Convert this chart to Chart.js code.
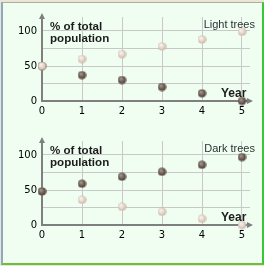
<!DOCTYPE html>
<html>
<head>
<meta charset="utf-8">
<script src="https://cdn.jsdelivr.net/npm/chart.js@4/dist/chart.umd.min.js"></script>
<style>
body { margin: 0; background: #e9e6d6; }
#frame { position: absolute; left: 0; top: 0; width: 264px; height: 266px; overflow: hidden; }
#panel { position: absolute; left: 1px; top: 2px; width: 259px; height: 260px; background: #effef0;
  border-left: 2px solid #8ea8bd; border-top: 1px solid #b4ae98; border-right: 2px solid #35c935; border-bottom: 2px solid #6cbf3a; }
canvas { position: absolute; left: 0; }
.lbl { position: absolute; font-family: "Liberation Sans", Arial, sans-serif; font-size: 11px; line-height: 12px; color: #1c1c1c; white-space: nowrap; }
.b { font-weight: bold; font-size: 11.6px; }
.yr { font-size: 12px; }
</style>
</head>
<body>
<div id="frame">
  <div id="panel"></div>
  <canvas id="light-chart" width="264" height="124" style="top:0"></canvas>
  <canvas id="dark-chart" width="264" height="124" style="top:124px"></canvas>

  <div class="lbl b" style="left:50px;top:20px">% of total</div>
  <div class="lbl b" style="left:50px;top:32px">population</div>
  <div class="lbl" style="right:9px;top:18px;color:#2a3434">Light trees</div>
  <div class="lbl b yr" style="left:221px;top:87px">Year</div>

  <div class="lbl b" style="left:50px;top:144px">% of total</div>
  <div class="lbl b" style="left:50px;top:156px">population</div>
  <div class="lbl" style="right:9px;top:142px;color:#2a3434">Dark trees</div>
  <div class="lbl b yr" style="left:221px;top:211px">Year</div>
</div>

<script>
// years on the x axis
const years = [0, 1, 2, 3, 4, 5];
const yLabels = [0, 50, 100];
const yGrid = [0, 25, 50, 75, 100];

// top panel: light trees
const topLight = [50, 60, 67, 78, 88, 99];
const topDark = [50, 37, 30, 20, 11, 0];

// bottom panel: dark trees
const bottomDark = [48, 59, 69, 76, 86, 97];
const bottomLight = [48, 36, 26, 19, 9, 0];

function ball(hi, mid, lo) {
    const cv = document.createElement('canvas');
    cv.width = 9;
    cv.height = 9;
    const c = cv.getContext('2d');
    const g = c.createRadialGradient(3.3, 3, 0.4, 4.5, 4.5, 4.6);
    g.addColorStop(0, hi);
    g.addColorStop(0.55, mid);
    g.addColorStop(1, lo);
    c.fillStyle = g;
    c.beginPath();
    c.arc(4.5, 4.5, 4.1, 0, Math.PI * 2);
    c.fill();
    return cv;
}

const lightBall = ball('#faf4ef', '#e3d4ca', '#bfa898');
const darkBall = ball('#a89a90', '#6c5d54', '#463a33');

const arrows = {
    id: 'arrows',
    afterDraw(chart) {
        const { ctx, chartArea } = chart;
        const l = chartArea.left, t = chartArea.top, r = chartArea.right, b = chartArea.bottom;
        ctx.save();
        ctx.fillStyle = '#7f7f7f';
        ctx.beginPath();
        ctx.moveTo(l - 3, t + 2);
        ctx.lineTo(l + 3, t + 2);
        ctx.lineTo(l, t - 4);
        ctx.closePath();
        ctx.fill();
        ctx.beginPath();
        ctx.moveTo(r - 3, b - 3);
        ctx.lineTo(r - 3, b + 3);
        ctx.lineTo(r + 3, b);
        ctx.closePath();
        ctx.fill();
        ctx.restore();
    }
};

function points(vals) {
    return years.map((x, i) => ({ x: x, y: vals[i] }));
}

function makeChart(id, front, frontBall, back, backBall) {
    const tickFont = { family: 'DejaVu Sans', size: 10 };
    return new Chart(document.getElementById(id), {
        type: 'scatter',
        data: {
            datasets: [
                { data: points(front), pointStyle: frontBall, pointRadius: 4, clip: false },
                { data: points(back), pointStyle: backBall, pointRadius: 4, clip: false }
            ]
        },
        options: {
            responsive: false,
            animation: false,
            events: [],
            layout: { padding: { top: 17, right: 14, left: 0, bottom: 0 } },
            plugins: { legend: { display: false }, tooltip: { enabled: false } },
            scales: {
                x: {
                    type: 'linear',
                    min: 0,
                    max: 5.2,
                    afterBuildTicks: s => { s.ticks = years.map(v => ({ value: v })); },
                    afterFit: s => { s.height = 23; },
                    grid: { color: '#c8c8c8', drawTicks: false },
                    border: { color: '#7f7f7f', width: 2 },
                    ticks: { color: '#000', font: tickFont, padding: 4, maxRotation: 0 }
                },
                y: {
                    min: 0,
                    max: 120,
                    afterBuildTicks: s => { s.ticks = yGrid.map(v => ({ value: v })); },
                    afterFit: s => { s.width = 42; },
                    grid: { color: '#c8c8c8', drawTicks: false },
                    border: { color: '#7f7f7f', width: 2 },
                    ticks: {
                        color: '#000',
                        font: tickFont,
                        padding: 5,
                        callback: v => yLabels.includes(v) ? String(v) : ''
                    }
                }
            }
        },
        plugins: [arrows]
    });
}

window.onload = function () {
    makeChart('light-chart', topLight, lightBall, topDark, darkBall);
    makeChart('dark-chart', bottomDark, darkBall, bottomLight, lightBall);
};
</script>
</body>
</html>
